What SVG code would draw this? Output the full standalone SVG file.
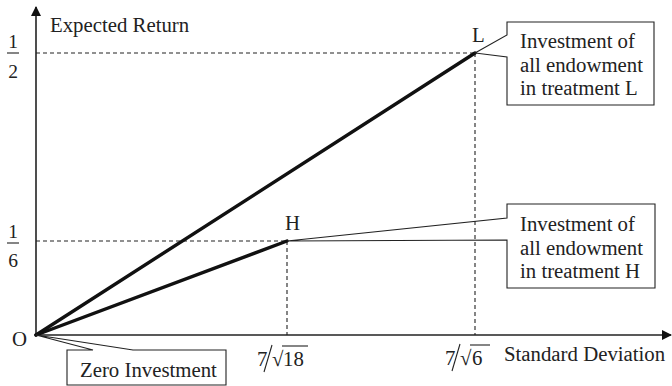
<svg xmlns="http://www.w3.org/2000/svg" width="672" height="386" viewBox="0 0 672 386">
<style>
text{font-family:"Liberation Serif","Times New Roman",serif;font-size:20.8px;fill:#222}
.ax{stroke:#222;stroke-width:1.6;fill:none}
.dash{stroke:#222;stroke-width:1.1;stroke-dasharray:4 3;fill:none}
.thick{stroke:#111;stroke-width:3.4;fill:none;stroke-linecap:round}
.call{stroke:#222;stroke-width:1.1;fill:none}
.thin{stroke:#222;stroke-width:1.1;fill:none}
</style>
<defs>
<marker id="arr" markerWidth="10" markerHeight="10" refX="9" refY="5" orient="auto" markerUnits="userSpaceOnUse">
<path d="M0,0 L10,5 L0,10 Z" fill="#111"/>
</marker>
</defs>
<g id="axes">
<line class="ax" x1="36" y1="335" x2="36" y2="7" marker-end="url(#arr)"/>
<line class="ax" x1="36" y1="335" x2="671" y2="335" marker-end="url(#arr)"/>
<text x="50" y="32">Expected Return</text>
<text x="504" y="361">Standard Deviation</text>
<text x="12" y="346">O</text>
</g>
<g id="ylabels">
<text x="13" y="48" text-anchor="middle" style="font-size:19.5px">1</text>
<line class="thin" x1="7" y1="53" x2="19" y2="53"/>
<text x="13" y="78" text-anchor="middle" style="font-size:19.5px">2</text>
<text x="13" y="238" text-anchor="middle" style="font-size:19.5px">1</text>
<line class="thin" x1="7" y1="243" x2="19" y2="243"/>
<text x="13" y="267" text-anchor="middle" style="font-size:19.5px">6</text>
</g>
<g id="xlabels">
<text x="257" y="366">7</text>
<line class="thin" x1="264" y1="372" x2="272" y2="345"/>
<text x="272" y="366">√</text>
<line class="thin" x1="282" y1="346" x2="308" y2="346"/>
<text x="283" y="366">18</text>
<text x="445" y="365">7</text>
<line class="thin" x1="452" y1="371" x2="460" y2="344"/>
<text x="460" y="365">√</text>
<line class="thin" x1="470" y1="345" x2="490" y2="345"/>
<text x="472" y="365">6</text>
</g>
<g id="connectors">
<line class="dash" x1="36" y1="53" x2="475" y2="53"/>
<line class="dash" x1="475" y1="53" x2="475" y2="335"/>
<line class="dash" x1="36" y1="241" x2="287" y2="241"/>
<line class="dash" x1="287" y1="241" x2="287" y2="335"/>
<line class="thick" x1="36" y1="335" x2="475" y2="53"/>
<line class="thick" x1="36" y1="335" x2="287" y2="241"/>
</g>
<g id="nodeL">
<text x="472" y="42">L</text>
<path class="call" d="M475,53 L507,35 L507,22 L654,22 L654,105 L507,105 L507,57 Z"/>
<text x="520" y="48">Investment of</text>
<text x="520" y="72">all endowment</text>
<text x="520" y="95">in treatment L</text>
</g>
<g id="nodeH">
<text x="285" y="230">H</text>
<path class="call" d="M287,241 L507,218 L507,204 L655,204 L655,288 L507,288 L507,240 Z"/>
<text x="520" y="231">Investment of</text>
<text x="520" y="255">all endowment</text>
<text x="520" y="278">in treatment H</text>
</g>
<g id="nodeZero">
<path class="call" d="M36,335 L93,350 L67,350 L67,385 L226,385 L226,350 L133,350 Z"/>
<text x="80" y="377">Zero Investment</text>
</g>
</svg>
